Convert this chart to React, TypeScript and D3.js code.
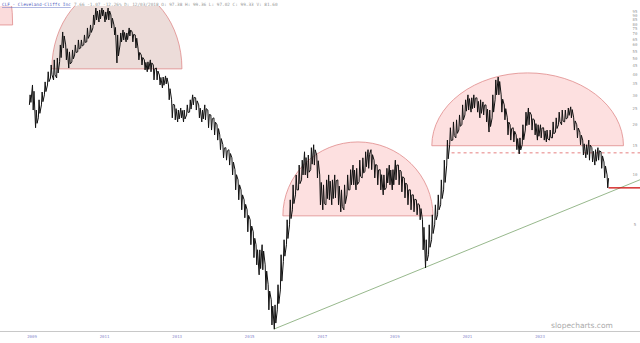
import React from "react";
import * as d3 from "d3";

const W = 640;
const H = 343;

// Monthly high / low closes (USD), Dec 2008 .. Nov 2024
const highs = [
  30.1, 34.5, 24.4, 28.1, 31.3, 36.0, 41.4, 45.5, 48.8, 50.1,
  60.0, 71.8, 60.0, 54.5, 56.0, 60.0, 64.3, 64.3, 68.9, 75.9,
  79.1, 90.8, 100, 97.3, 100, 94.7, 100, 90.8, 79.1, 68.9,
  70.8, 73.8, 70.8, 75.9, 71.8, 68.9, 56.0, 52.2, 48.8, 47.5,
  48.8, 45.5, 43.6, 39.6, 38.5, 39.1, 34.5, 28.1, 26.2, 24.4,
  25.1, 24.4, 26.2, 28.1, 30.1, 28.9, 26.2, 24.4, 26.2, 24.4,
  22.8, 21.9, 19.9, 17.3, 15.1, 14.5, 14.1, 12.6, 10.7, 9.29,
  8.09, 7.05, 6.14, 5.35, 4.53, 3.79, 3.53, 3.79, 2.87, 2.18,
  1.77, 1.65, 2.18, 3.30, 4.06, 5.35, 7.05, 8.67, 9.95, 11.4,
  12.2, 13.7, 13.1, 14.5, 15.1, 13.1, 9.95, 8.67, 9.29, 9.95,
  9.29, 9.95, 9.29, 8.09, 8.67, 9.95, 10.7, 11.4, 10.9, 12.2,
  12.6, 13.7, 14.1, 14.1, 12.2, 11.4, 10.7, 9.95, 10.9, 11.4,
  10.7, 12.2, 11.4, 10.4, 9.54, 8.67, 8.09, 7.55, 7.05, 6.58,
  5.35, 4.06, 4.99, 5.73, 6.58, 7.55, 9.29, 12.2, 16.1, 19.1,
  20.7, 21.3, 22.8, 26.2, 28.1, 30.1, 28.9, 30.1, 28.9, 28.1,
  27.3, 26.2, 24.4, 30.1, 37.0, 38.5, 30.1, 26.2, 21.9, 19.9,
  19.1, 17.3, 16.6, 19.9, 23.7, 25.1, 22.8, 21.3, 19.9, 19.9,
  19.1, 18.5, 18.5, 20.7, 21.9, 23.7, 24.4, 24.4, 25.1, 25.5,
  21.9, 19.9, 18.0, 16.1, 15.1, 16.1, 14.5, 14.1, 14.5, 13.7,
  11.9, 9.95,
];
const lows = [
  26.2, 24.4, 19.1, 21.9, 26.2, 30.1, 34.5, 38.0, 37.0, 38.0,
  47.5, 57.5, 48.8, 43.6, 47.5, 52.2, 54.5, 57.5, 60.0, 62.6,
  68.9, 75.9, 84.7, 82.4, 89.5, 82.4, 84.7, 75.9, 68.9, 46.8,
  60.0, 64.3, 62.6, 67.9, 62.6, 57.5, 48.8, 45.5, 42.5, 41.4,
  41.4, 37.0, 37.0, 34.5, 33.1, 35.0, 28.1, 21.9, 21.3, 20.7,
  21.9, 20.7, 22.8, 23.7, 26.2, 24.4, 21.9, 20.7, 21.3, 19.1,
  18.5, 17.3, 16.1, 14.1, 12.6, 12.2, 11.4, 9.95, 8.09, 7.05,
  6.14, 5.50, 4.53, 3.79, 3.17, 2.87, 2.50, 2.68, 2.03, 1.54,
  1.25, 1.18, 1.54, 2.03, 3.00, 3.79, 4.99, 6.14, 7.55, 8.09,
  9.29, 9.95, 9.54, 10.7, 11.4, 9.54, 6.58, 6.14, 6.58, 7.05,
  6.58, 7.24, 6.58, 5.97, 6.14, 7.55, 8.09, 8.67, 8.09, 9.04,
  9.54, 10.4, 10.9, 10.7, 9.54, 8.67, 8.09, 7.55, 8.32, 8.67,
  8.09, 9.29, 8.67, 7.87, 7.24, 6.58, 6.14, 5.97, 5.73, 5.35,
  3.53, 2.75, 3.30, 4.06, 4.99, 5.73, 6.58, 8.09, 11.4, 15.1,
  16.1, 16.6, 18.5, 19.9, 22.8, 24.4, 23.7, 25.1, 23.7, 21.9,
  22.8, 20.7, 18.0, 21.9, 28.1, 30.1, 23.7, 21.3, 17.3, 16.1,
  15.7, 14.1, 13.3, 15.1, 18.5, 19.9, 18.5, 17.3, 16.1, 16.6,
  16.1, 15.7, 16.1, 16.6, 18.0, 19.9, 19.9, 20.7, 21.9, 21.9,
  18.5, 16.6, 15.1, 13.1, 12.6, 12.2, 11.9, 11.4, 12.2, 10.9,
  9.54, 8.32,
];
const firstMonth = new Date(2008, 11, 15);

const xLabels = ["2009", "2011", "2013", "2015", "2017", "2019", "2021", "2023"];
const yTickValues = [95, 90, 85, 80, 75, 70, 65, 60, 55, 50, 45, 40, 35, 30, 25, 20, 15, 10, 5];

// Rounded-top zones: [start, end, base price, top price]
const arcStarts = [new Date(2004, 0, 1), new Date(2009, 6, 20), new Date(2015, 11, 1), new Date(2020, 0, 8)];
const arcEnds = [new Date(2008, 5, 20), new Date(2013, 1, 18), new Date(2020, 0, 20), new Date(2025, 3, 20)];
const arcBases = [79.1, 43.1, 5.65, 14.9];
const arcTops = [444, 135, 15.7, 40.8];

const dashedLevel = 13.5;
const dashedStart = new Date(2020, 6, 25);
const supportLevel = 8.32;
const trendDates = [new Date(2015, 8, 1), new Date(2019, 9, 20)];
const trendPrices = [1.18, 2.75];

const headerTicker = "CLF - Cleveland-Cliffs Inc";
const headerInfo = "7.66  -1.07  -12.26%  D: 12/03/2018  O: 97.38  H: 99.36  L: 97.02  C: 99.33  V: 81.60";

export default function App() {
  const x = d3.scaleTime().domain([new Date(2009, 0, 1), new Date(2023, 0, 1)]).range([32, 540]);
  const y = d3.scaleLog().domain([1.15, 100]).range([331, 8]);
  const dates = highs.map((_, i) => d3.timeMonth.offset(firstMonth, i));

  const pts: [number, number][] = [];
  dates.forEach((d, i) => {
    const mid = Math.sqrt(highs[i] * lows[i]);
    const nextMid = i + 1 < highs.length ? Math.sqrt(highs[i + 1] * lows[i + 1]) : mid * 0.9;
    const a = x(d3.timeDay.offset(d, -9));
    const b = x(d3.timeDay.offset(d, -2));
    const c = x(d3.timeDay.offset(d, 6));
    if (nextMid >= mid) {
      pts.push([a, y(lows[i])]);
      pts.push([b, y(highs[i])]);
      pts.push([c, y(Math.sqrt(mid * lows[i]))]);
    } else {
      pts.push([a, y(highs[i])]);
      pts.push([b, y(lows[i])]);
      pts.push([c, y(Math.sqrt(mid * highs[i]))]);
    }
  });
  const line = d3.line();
  const pricePath = line(pts) || "";
  const lastX = x(d3.timeDay.offset(dates[dates.length - 1], 6));

  const arcs = arcStarts.map((s, i) => {
    const x0 = x(s);
    const x1 = x(arcEnds[i]);
    const yb = y(arcBases[i]);
    const rx = (x1 - x0) / 2;
    const ry = yb - y(arcTops[i]);
    return `M${x0},${yb} A${rx},${ry} 0 0 1 ${x1},${yb} Z`;
  });
  const arcFills = ["#fbdcdc", "#ecdcd9", "#fde0e0", "#fde0e0"];

  const tx0 = x(trendDates[0]);
  const ty0 = y(trendPrices[0]);
  const slope = (y(trendPrices[1]) - ty0) / (x(trendDates[1]) - tx0);
  const trendEndX = W;
  const trendEndY = ty0 + slope * (trendEndX - tx0);

  return (
    <svg width={W} height={H} style={{ position: "absolute", left: 0, top: 0, background: "#fff" }}>
      <defs>
        <clipPath id="plot">
          <rect x={0} y={6} width={628} height={325} />
        </clipPath>
      </defs>
      <g clipPath="url(#plot)">
        {arcs.map((d, i) => (
          <path key={i} d={d} fill={arcFills[i]} stroke="#e08a8a" strokeWidth={0.8} />
        ))}
      </g>
      <line x1={x(dashedStart)} x2={W} y1={y(dashedLevel)} y2={y(dashedLevel)} stroke="#e06060" strokeWidth={0.8} strokeDasharray="3,3" />
      <line x1={tx0} y1={ty0} x2={trendEndX} y2={trendEndY} stroke="#6a9a5a" strokeWidth={0.7} />
      <path d={pricePath} fill="none" stroke="#111" strokeWidth={1} strokeLinejoin="miter" />
      <line x1={lastX} x2={W} y1={y(supportLevel)} y2={y(supportLevel)} stroke="#d01010" strokeWidth={1.3} />
      {/* x axis */}
      <line x1={0} x2={W} y1={331.5} y2={331.5} stroke="#c8c8c8" strokeWidth={1} />
      {xLabels.map((t) => (
        <text key={t} x={x(new Date(+t, 0, 1))} y={338} fontSize={4} fill="#8888cc" textAnchor="middle" fontFamily="DejaVu Sans Mono">
          {t}
        </text>
      ))}
      {/* y axis labels */}
      {yTickValues.map((v) => (
        <text key={v} x={635} y={y(v) + 1.5} fontSize={4} fill="#999" textAnchor="middle" fontFamily="DejaVu Sans Mono">
          {v}
        </text>
      ))}
      <text x={582} y={328} fontSize={7.5} fill="#aaa" textAnchor="middle" fontFamily="DejaVu Sans">
        slopecharts.com
      </text>
      <text x={2} y={6} fontSize={4.4} fontFamily="DejaVu Sans Mono" fill="#5060c0" textDecoration="underline">
        {headerTicker}
      </text>
      <text x={74} y={6} fontSize={4.4} fontFamily="DejaVu Sans Mono" fill="#999">
        {headerInfo}
      </text>
    </svg>
  );
}
